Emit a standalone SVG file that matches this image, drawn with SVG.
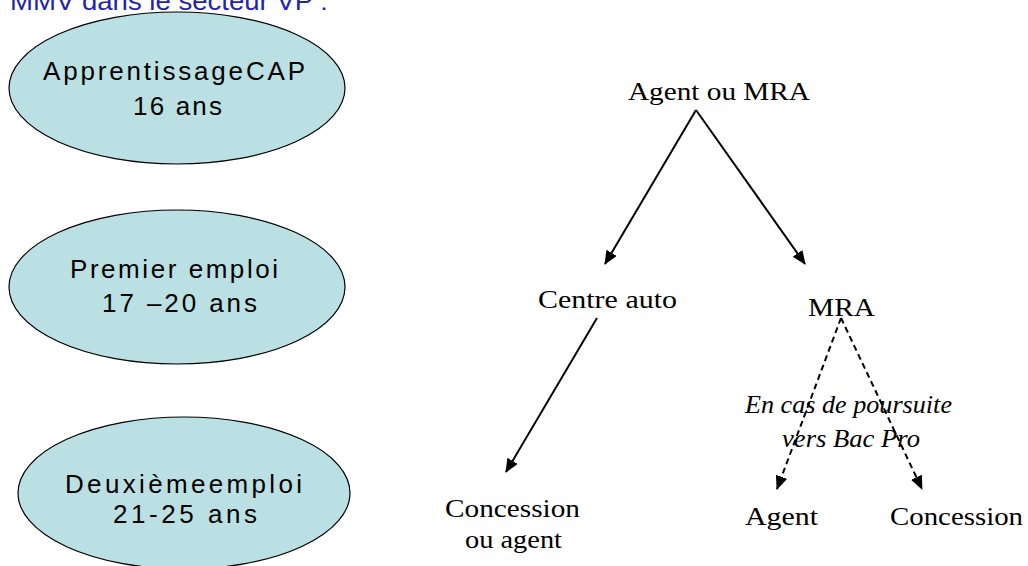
<svg xmlns="http://www.w3.org/2000/svg" width="1028" height="566" viewBox="0 0 1028 566">
<style>
.ell{fill:#bbe0e3;stroke:#000;stroke-width:1.2}
.st{font-family:"Liberation Sans",Arial,sans-serif;font-size:26px;fill:#000}
.sr{font-family:"Liberation Serif","Times New Roman",serif;font-size:26px;fill:#000}
.it{font-style:italic}
.ln{stroke:#000;stroke-width:2;fill:none}
.dsh{stroke-dasharray:6 4}
</style>
<defs>
<marker id="ah" markerUnits="userSpaceOnUse" markerWidth="14" markerHeight="12" refX="13" refY="6" orient="auto">
<path d="M0,0 L14,6 L0,12 z" fill="#000"/>
</marker>
</defs>
<rect width="1028" height="566" fill="#fff"/>
<text x="10" y="10" font-family="'Liberation Sans',Arial,sans-serif" font-size="26" fill="#2424a8" textLength="318" lengthAdjust="spacingAndGlyphs">MMV dans le secteur VP :</text>

<g id="n-cap">
<ellipse class="ell" cx="177" cy="88" rx="168" ry="76"/>
<text class="st" x="43" y="80" textLength="262" lengthAdjust="spacing">ApprentissageCAP</text>
<text class="st" x="133" y="115" textLength="89" lengthAdjust="spacing">16 ans</text>
</g>
<g id="n-premier">
<ellipse class="ell" cx="177" cy="287" rx="168" ry="77"/>
<text class="st" x="70" y="278" textLength="208" lengthAdjust="spacing">Premier emploi</text>
<text class="st" x="102" y="312" textLength="155" lengthAdjust="spacing">17 –20 ans</text>
</g>
<g id="n-deuxieme">
<ellipse class="ell" cx="184" cy="493" rx="166" ry="76"/>
<text class="st" x="65" y="493" textLength="237" lengthAdjust="spacing">Deuxièmeemploi</text>
<text class="st" x="113" y="523" textLength="144" lengthAdjust="spacing">21-25 ans</text>
</g>

<g id="n-agentmra"><text class="sr" x="628" y="100" textLength="182" lengthAdjust="spacingAndGlyphs">Agent ou MRA</text></g>
<g id="n-centre"><text class="sr" x="538" y="308" textLength="139" lengthAdjust="spacingAndGlyphs">Centre auto</text></g>
<g id="n-mra"><text class="sr" x="808" y="316" textLength="67" lengthAdjust="spacingAndGlyphs">MRA</text></g>
<g id="n-concession1">
<text class="sr" x="445" y="517" textLength="135" lengthAdjust="spacingAndGlyphs">Concession</text>
<text class="sr" x="465" y="548" textLength="97" lengthAdjust="spacingAndGlyphs">ou agent</text>
</g>
<g id="n-agent"><text class="sr" x="745" y="525" textLength="73" lengthAdjust="spacingAndGlyphs">Agent</text></g>
<g id="n-concession2"><text class="sr" x="890" y="525" textLength="133" lengthAdjust="spacingAndGlyphs">Concession</text></g>
<g id="n-note">
<text class="sr it" x="745" y="413" textLength="207" lengthAdjust="spacingAndGlyphs">En cas de poursuite</text>
<text class="sr it" x="782" y="447" textLength="138" lengthAdjust="spacingAndGlyphs">vers Bac Pro</text>
</g>

<g id="connectors">
<line class="ln" x1="696" y1="110" x2="605" y2="264" marker-end="url(#ah)"/>
<line class="ln" x1="696" y1="110" x2="805" y2="264" marker-end="url(#ah)"/>
<line class="ln" x1="597" y1="318" x2="506" y2="472" marker-end="url(#ah)"/>
<line class="ln dsh" x1="841" y1="318" x2="777" y2="489" marker-end="url(#ah)"/>
<line class="ln dsh" x1="841" y1="318" x2="922" y2="489" marker-end="url(#ah)"/>
</g>
</svg>
